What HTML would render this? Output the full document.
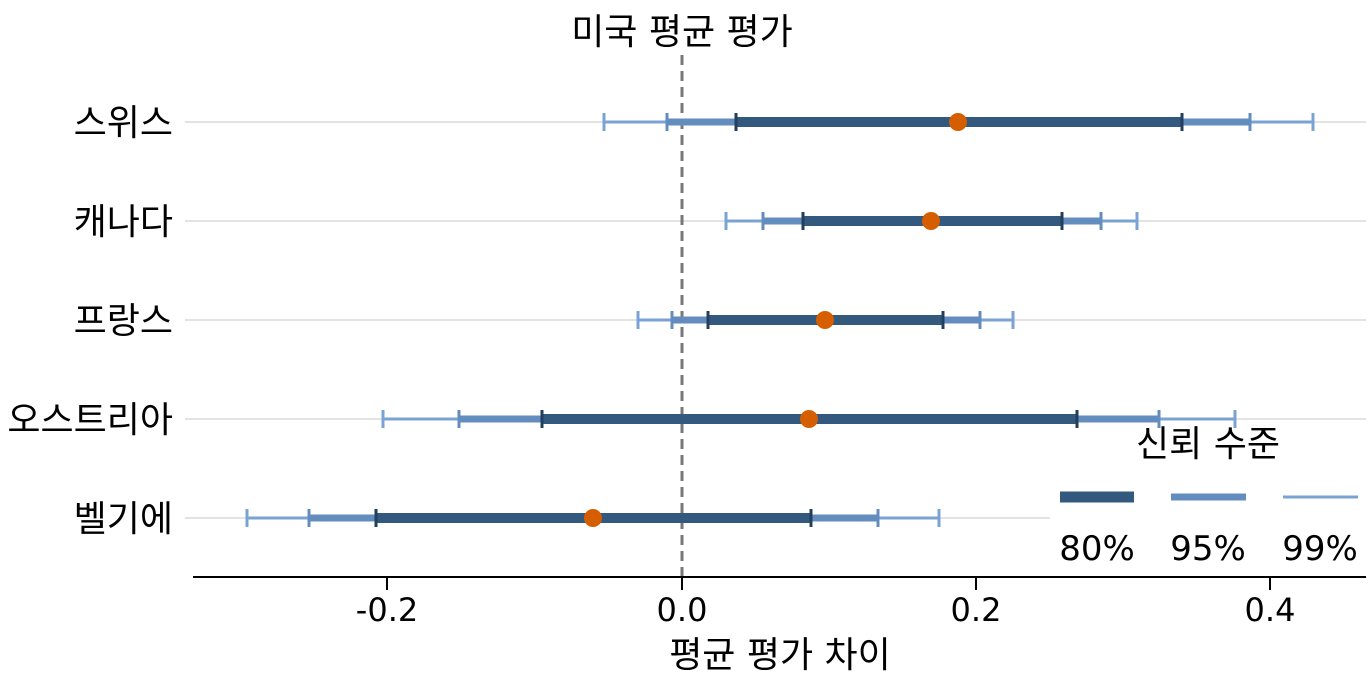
<!DOCTYPE html>
<html><head><meta charset="utf-8"><style>body{margin:0;background:#fff}svg{display:block}text{font-family:"DejaVu Sans","Noto Sans CJK KR",sans-serif;fill:#000}</style></head><body>
<svg width="1371" height="685" viewBox="0 0 1371 685" xmlns="http://www.w3.org/2000/svg">
<g stroke="#e3e3e3" stroke-width="2">
<line x1="185" x2="1366" y1="122" y2="122"/><line x1="185" x2="1366" y1="221" y2="221"/><line x1="185" x2="1366" y1="320" y2="320"/><line x1="185" x2="1366" y1="419" y2="419"/><line x1="185" x2="1366" y1="518" y2="518"/>
</g>
<rect x="1050" y="425" width="316" height="148" fill="#fff"/>
<line x1="682" x2="682" y1="55" y2="577" stroke="#777" stroke-width="3" stroke-dasharray="10,6"/>
<text x="682" y="44" font-size="36" text-anchor="middle">미국 평균 평가</text>
<g font-size="36" text-anchor="end">
<text x="173" y="135">스위스</text><text x="173" y="234">캐나다</text><text x="173" y="333">프랑스</text><text x="173" y="432">오스트리아</text><text x="173" y="531">벨기에</text>
</g>
<g stroke="#7aa3d4" stroke-width="3">
<path d="M604 122H1313M604 113V131M1313 113V131"/>
<path d="M726 221H1137M726 212V230M1137 212V230"/>
<path d="M638 320H1013M638 311V329M1013 311V329"/>
<path d="M383 419H1235M383 410V428M1235 410V428"/>
<path d="M247 518H939M247 509V527M939 509V527"/>
</g>
<g stroke="#648dbf">
<path stroke-width="7" d="M667 122H1250M763 221H1101M672 320H980M459 419H1159M309 518H878"/>
<path stroke-width="3" d="M667 113V131M1250 113V131M763 212V230M1101 212V230M672 311V329M980 311V329M459 410V428M1159 410V428M309 509V527M878 509V527"/>
</g>
<g stroke="#34597f">
<path stroke-width="10" d="M736 122H1182M803 221H1062M708 320H943M542 419H1077M376 518H811"/>
<path stroke="#233f5e" stroke-width="3" d="M736 113V131M1182 113V131M803 212V230M1062 212V230M708 311V329M943 311V329M542 410V428M1077 410V428M376 509V527M811 509V527"/>
</g>
<g fill="#d55e00">
<circle cx="958" cy="122" r="9"/><circle cx="931" cy="221" r="9"/><circle cx="825" cy="320" r="9"/><circle cx="809" cy="419" r="9"/><circle cx="593" cy="518" r="9"/>
</g>
<line x1="193" x2="1366" y1="577" y2="577" stroke="#000" stroke-width="2"/>
<g stroke="#000" stroke-width="2"><line x1="387" x2="387" y1="577" y2="590"/><line x1="682" x2="682" y1="577" y2="590"/><line x1="976" x2="976" y1="577" y2="590"/><line x1="1270" x2="1270" y1="577" y2="590"/></g>
<g font-size="32" text-anchor="middle"><text x="387" y="621">-0.2</text><text x="682" y="621">0.0</text><text x="976" y="621">0.2</text><text x="1270" y="621">0.4</text></g>
<text x="780" y="667" font-size="36" text-anchor="middle">평균 평가 차이</text>
<text x="1208" y="456" font-size="36" text-anchor="middle">신뢰 수준</text>
<line x1="1060" x2="1134" y1="497" y2="497" stroke="#34597f" stroke-width="11"/>
<line x1="1171" x2="1246" y1="497" y2="497" stroke="#648dbf" stroke-width="7"/>
<line x1="1283" x2="1358" y1="497" y2="497" stroke="#7aa3d4" stroke-width="3"/>
<g font-size="34" text-anchor="middle"><text x="1097" y="560">80%</text><text x="1208" y="560">95%</text><text x="1320" y="560">99%</text></g>
</svg>
</body></html>
